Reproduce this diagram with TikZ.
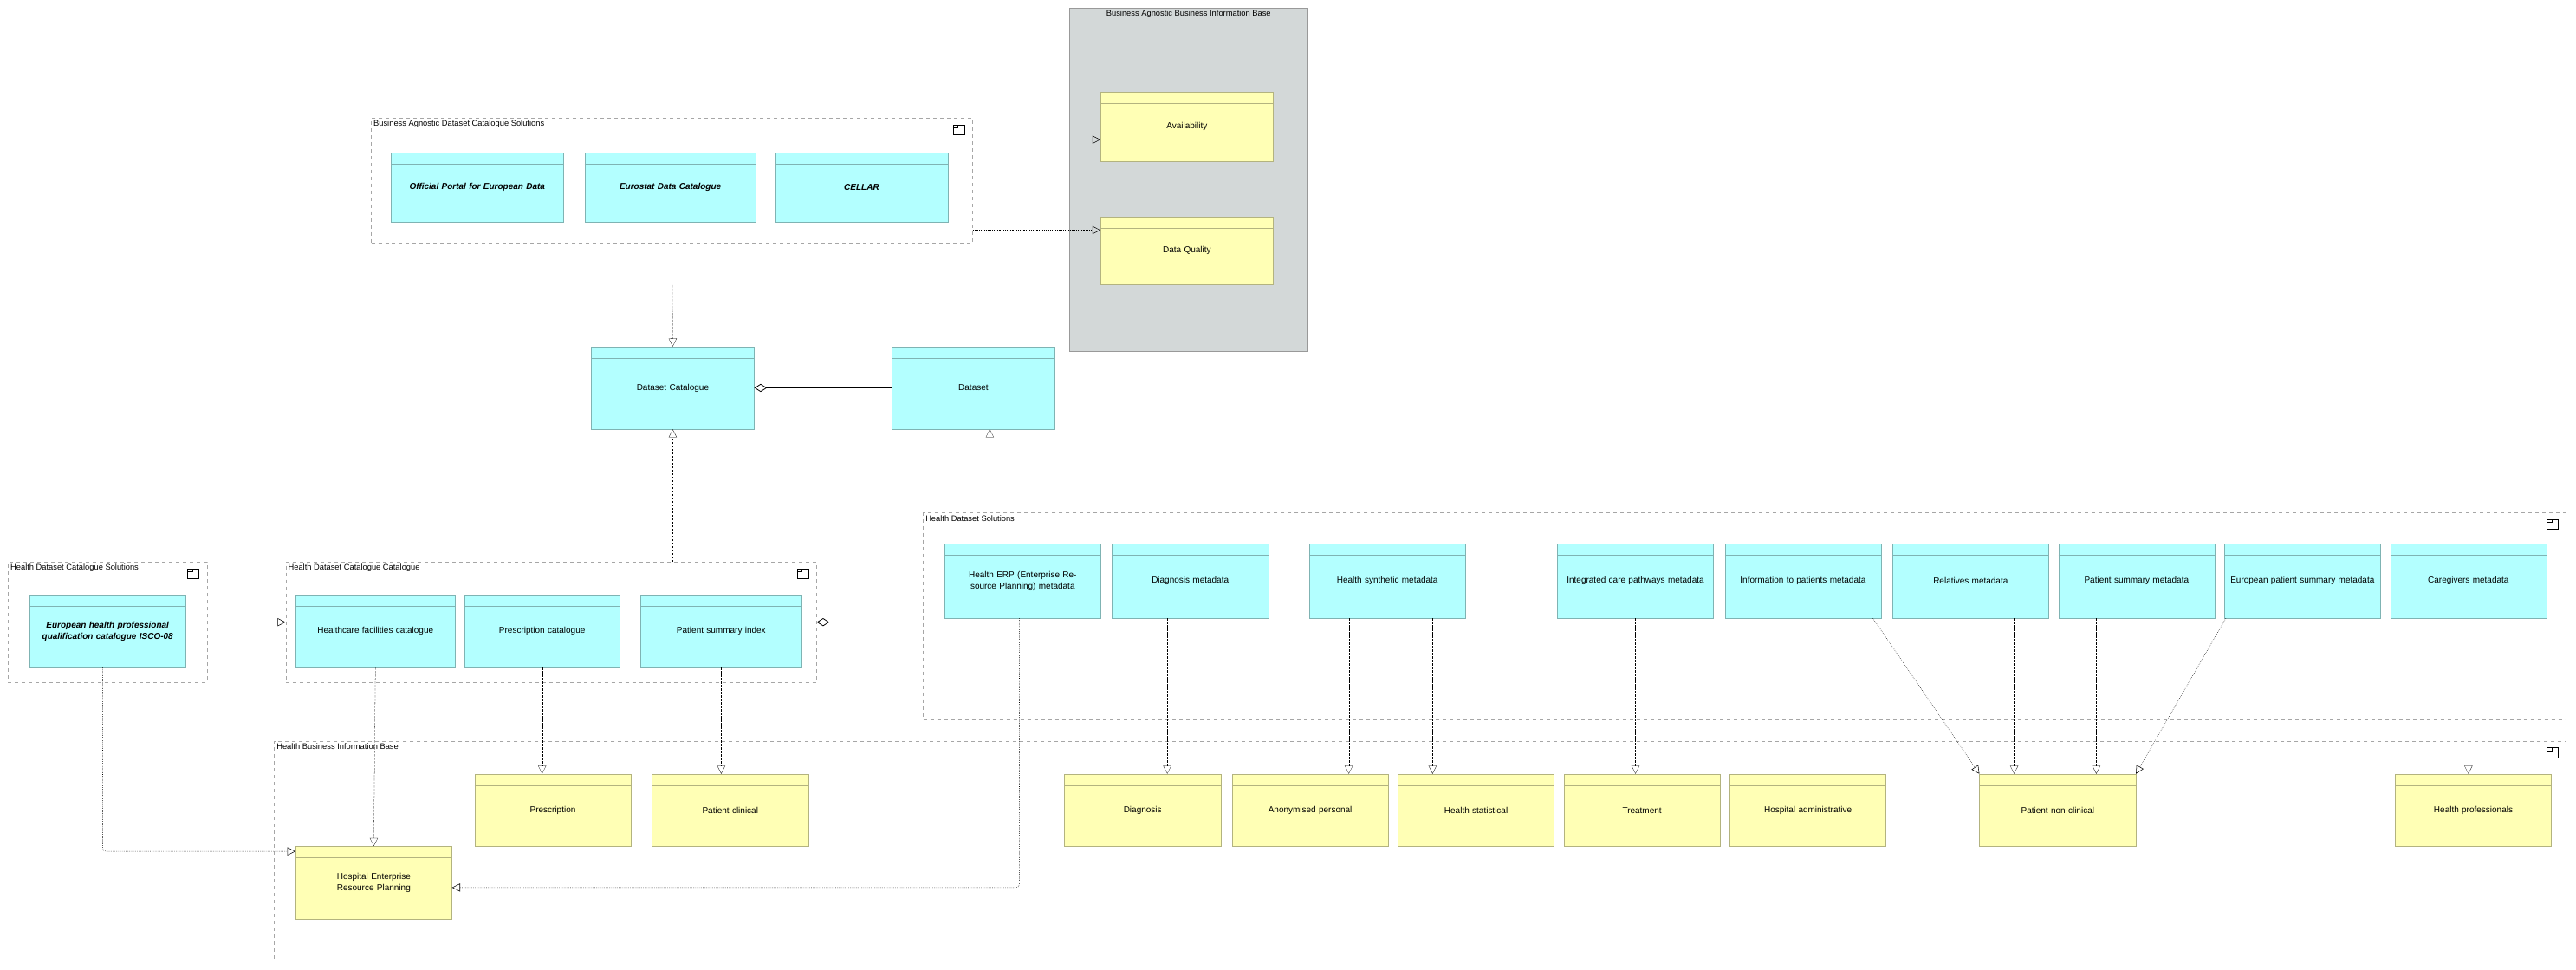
\documentclass[tikz,border=0pt]{standalone}
\usepackage{fontspec}
\setmainfont{Liberation Sans}
\usetikzlibrary{arrows.meta,calc}
\definecolor{cy}{HTML}{B3FFFF}\definecolor{cyb}{HTML}{7FB3B3}
\definecolor{ye}{HTML}{FFFFB5}\definecolor{yeb}{HTML}{B3B37F}
\definecolor{gr}{HTML}{D3D8D8}\definecolor{grb}{HTML}{999999}
\tikzset{
 el/.style={draw,rectangle,inner sep=2pt,align=center,font=\fontsize{7.5}{10}\selectfont},
 grp/.style={draw=black!35,dashed,rectangle,inner sep=0pt},
 gtitle/.style={anchor=north west,inner sep=2pt,font=\fontsize{7}{8}\selectfont},
 tri/.style={-{Triangle[open,length=7pt,width=7pt]}},
 real/.style={tri,densely dotted,thin},
 spec/.style={tri,dash pattern=on 2pt off 1pt,very thin},
 agg/.style={{Diamond[open,length=11pt,width=7pt]}-,semithick},
}
% \elm{name}{x1}{y1}{x2}{y2}{fill}{border}{text}
\newcommand\elm[8]{%
 \pgfmathsetmacro\ww{(#4-#2)*0.05}\pgfmathsetmacro\hh{(#5-#3)*0.05}%
 \node[el,fill=#6,draw=#7,minimum width=\ww cm,minimum height=\hh cm,text width=\ww cm-6pt] (#1) at ({(#2+#4)/2},{(#3+#5)/2}) {#8};
 \draw[#7] ($(#1.north west)+(0,7)$) -- ($(#1.north east)+(0,7)$);}
% \grpbox{name}{x1}{y1}{x2}{y2}{title}
\newcommand\grpbox[6]{%
 \pgfmathsetmacro\ww{(#4-#2)*0.05}\pgfmathsetmacro\hh{(#5-#3)*0.05}%
 \node[grp,minimum width=\ww cm,minimum height=\hh cm] (#1) at ({(#2+#4)/2},{(#3+#5)/2}) {};
 \node[gtitle] at (#1.north west) {#6};
 \draw[thin] ($(#1.north east)+(-12,4)$) rectangle ($(#1.north east)+(-5,10)$);
 \draw[thin] ($(#1.north east)+(-12,6)$) -- ($(#1.north east)+(-9,6)$) -- ($(#1.north east)+(-9,4)$);}
\begin{document}
\begin{tikzpicture}[x=0.05cm,y=-0.05cm]
\useasboundingbox (0,0) rectangle (1568,590);
% grey base
\node[draw=grb,fill=gr,rectangle,minimum width=7.25cm,minimum height=10.45cm,inner sep=0pt] (babib) at (723.5,109.5) {};
\node[anchor=north,font=\fontsize{7}{8}\selectfont,inner sep=2pt] at (babib.north) {Business Agnostic Business Information Base};
\elm{avail}{670}{56}{775}{98}{ye}{yeb}{Availability}
\elm{dq}{670}{132}{775}{173}{ye}{yeb}{Data Quality}
% groups
\grpbox{badcs}{226}{72}{592}{148}{Business Agnostic Dataset Catalogue Solutions}
\elm{opeu}{238}{93}{343}{135}{cy}{cyb}{\textbf{\textit{Official Portal for European Data}}}
\elm{esdc}{356}{93}{460}{135}{cy}{cyb}{\textbf{\textit{Eurostat Data Catalogue}}}
\elm{cellar}{472}{93}{577}{135}{cy}{cyb}{\textbf{\textit{CELLAR}}}
\elm{dc}{360}{211}{459}{261}{cy}{cyb}{Dataset Catalogue}
\elm{ds}{543}{211}{642}{261}{cy}{cyb}{Dataset}
\grpbox{hdcs}{5}{342}{126}{415}{Health Dataset Catalogue Solutions}
\elm{eh}{18}{362}{113}{406}{cy}{cyb}{\textbf{\textit{European health professional qualification catalogue ISCO-08}}}
\grpbox{hdcc}{174}{342}{497}{415}{Health Dataset Catalogue Catalogue}
\elm{hfc}{180}{362}{277}{406}{cy}{cyb}{Healthcare facilities catalogue}
\elm{pc}{283}{362}{377}{406}{cy}{cyb}{Prescription catalogue}
\elm{psi}{390}{362}{488}{406}{cy}{cyb}{Patient summary index}
\grpbox{hds}{562}{312}{1562}{438}{Health Dataset Solutions}
\elm{herpm}{575}{331}{670}{376}{cy}{cyb}{Health ERP (Enterprise Resource Planning) metadata}
\elm{dm}{677}{331}{772}{376}{cy}{cyb}{Diagnosis metadata}
\elm{hsm}{797}{331}{892}{376}{cy}{cyb}{Health synthetic metadata}
\elm{icp}{948}{331}{1043}{376}{cy}{cyb}{Integrated care pathways metadata}
\elm{itp}{1050}{331}{1145}{376}{cy}{cyb}{Information to patients metadata}
\elm{rel}{1152}{331}{1247}{376}{cy}{cyb}{Relatives metadata}
\elm{psm}{1253}{331}{1348}{376}{cy}{cyb}{Patient summary metadata}
\elm{epsm}{1354}{331}{1449}{376}{cy}{cyb}{European patient summary metadata}
\elm{care}{1455}{331}{1550}{376}{cy}{cyb}{Caregivers metadata}
\grpbox{hbib}{167}{451}{1562}{584}{Health Business Information Base}
\elm{presc}{289}{471}{384}{515}{ye}{yeb}{Prescription}
\elm{pclin}{397}{471}{492}{515}{ye}{yeb}{Patient clinical}
\elm{diag}{648}{471}{743}{515}{ye}{yeb}{Diagnosis}
\elm{anon}{750}{471}{845}{515}{ye}{yeb}{Anonymised personal}
\elm{hstat}{851}{471}{946}{515}{ye}{yeb}{Health statistical}
\elm{treat}{952}{471}{1047}{515}{ye}{yeb}{Treatment}
\elm{hadm}{1053}{471}{1148}{515}{ye}{yeb}{Hospital administrative}
\elm{pnc}{1205}{471}{1300}{515}{ye}{yeb}{Patient non-clinical}
\elm{hp}{1458}{471}{1553}{515}{ye}{yeb}{Health professionals}
\elm{herp}{180}{515}{275}{559}{ye}{yeb}{Hospital Enterprise Resource Planning}
% connectors
\draw[real] ($(badcs.east|-avail.west)+(0,8)$) -- ($(avail.west)+(0,8)$);
\draw[real] ($(badcs.east|-dq.west)+(0,-12.5)$) -- ($(dq.west)+(0,-12.5)$);
\draw[spec] (badcs.south) -- (dc.north);
\draw[agg] (dc.east) -- (ds.west);
\draw[spec] (dc.south|-hdcc.north) -- (dc.south);
\draw[spec] ($(ds.south|-hds.north)+(10,0)$) -- ($(ds.south)+(10,0)$);
\draw[agg] (hdcc.east) -- (hdcc.east-|hds.west);
\draw[real] (hdcs.east) -- (hdcc.west);
\draw[real,rounded corners=3pt] ($(eh.south)+(-3,0)$) |- ($(herp.west)+(0,-19)$);
\draw[spec] (hfc.south) -- (herp.north);
\draw[spec] (pc.south) -- (pc.south|-presc.north);
\draw[spec] (psi.south) -- (psi.south|-pclin.north);
\draw[real,rounded corners=3pt] ($(herpm.south)+(-2,0)$) |- ($(herp.east)+(0,3)$);
\draw[spec] ($(dm.south)+(-14,0)$) -- ($(dm.south|-diag.north)+(-14,0)$);
\draw[spec] ($(hsm.south)+(-23.5,0)$) -- ($(hsm.south|-anon.north)+(-23.5,0)$);
\draw[spec] ($(hsm.south)+(27.5,0)$) -- ($(hsm.south|-hstat.north)+(27.5,0)$);
\draw[spec] (icp.south) -- (icp.south|-treat.north);
\draw[real] ($(itp.south)+(42.5,0)$) -- (pnc.north west);
\draw[spec] ($(rel.south)+(26.5,0)$) -- ($(rel.south|-pnc.north)+(26.5,0)$);
\draw[spec] ($(psm.south)+(-24.5,0)$) -- ($(psm.south|-pnc.north)+(-24.5,0)$);
\draw[real] ($(epsm.south west)+(1,0)$) -- (pnc.north east);
\draw[spec] (care.south) -- (care.south|-hp.north);
\end{tikzpicture}
\end{document}
